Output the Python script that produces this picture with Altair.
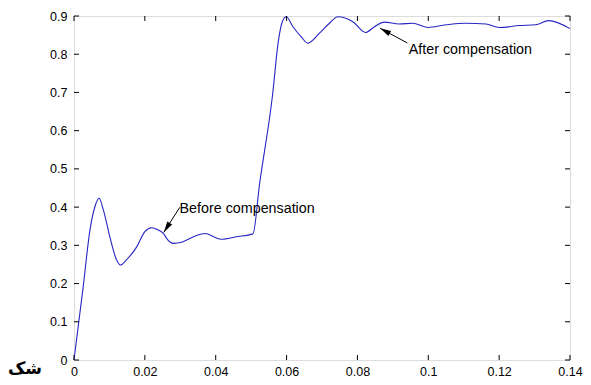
import math
import altair as alt
import pandas as pd

# ---- data ----
t = [0, 0.0026, 0.0045, 0.0059, 0.0071, 0.0083, 0.0101, 0.0120, 0.0131, 0.0148,
     0.0177, 0.0200, 0.0219, 0.0236, 0.0252, 0.0266, 0.0280, 0.0308, 0.0341, 0.0371,
     0.0397, 0.0416, 0.0458, 0.0505, 0.0524, 0.0561, 0.0576, 0.0588, 0.0599, 0.0618,
     0.0641, 0.0660, 0.0693, 0.0721, 0.0745, 0.0787, 0.0823, 0.0848, 0.0876, 0.0918,
     0.0956, 0.0998, 0.1050, 0.1106, 0.1163, 0.1200, 0.1257, 0.1303, 0.1340, 0.1400]
v = [0, 0.192, 0.340, 0.401, 0.423, 0.392, 0.323, 0.262, 0.2485, 0.262,
     0.296, 0.336, 0.346, 0.341, 0.331, 0.313, 0.305, 0.3095, 0.324, 0.331,
     0.321, 0.316, 0.3226, 0.330, 0.462, 0.698, 0.829, 0.885, 0.898, 0.872,
     0.846, 0.829, 0.855, 0.881, 0.898, 0.885, 0.857, 0.872, 0.884, 0.879,
     0.881, 0.870, 0.877, 0.881, 0.879, 0.870, 0.875, 0.877, 0.888, 0.867]

x_ticks = [0, 0.02, 0.04, 0.06, 0.08, 0.1, 0.12, 0.14]
y_ticks = [0, 0.1, 0.2, 0.3, 0.4, 0.5, 0.6, 0.7, 0.8, 0.9]

ann_text = ["Before compensation", "After compensation"]
ann_tx = [0.0298, 0.0945]          # text anchor (left edge)
ann_ty = [0.3952, 0.8118]
arr_x1 = [0.02986, 0.0941]          # arrow tail
arr_y1 = [0.3995, 0.8294]
arr_x2 = [0.02535, 0.0864]          # arrow tip (on the curve)
arr_y2 = [0.3340, 0.8678]

side_label = "شک"

W, H = 496, 344
XMAX, YMAX = 0.14, 0.9

xs = alt.Scale(domain=[0, XMAX], nice=False, zero=False)
ys = alt.Scale(domain=[0, YMAX], nice=False, zero=False)

axis_common = dict(format="~g", title=None, grid=False, domain=False, ticks=False,
                   labelFontSize=12.5, labelColor="black",
                   labelFont="Liberation Sans", labelFlush=False, labelOverlap=False)
x_axis = alt.Axis(values=x_ticks, labelPadding=5, **axis_common)
y_axis = alt.Axis(values=y_ticks, labelPadding=7, **axis_common)


def X(field):
    return alt.X(field, type="quantitative", scale=xs, axis=x_axis)


def Y(field):
    return alt.Y(field, type="quantitative", scale=ys, axis=y_axis)


df = pd.DataFrame({"t": t, "v": v})
line = alt.Chart(df).mark_line(color="#2626c4", strokeWidth=1.1, interpolate="monotone").encode(
    x=X("t"), y=Y("v"))

xt = pd.DataFrame({"x": x_ticks})
yt = pd.DataFrame({"y": y_ticks})
TL = 5
tick_bottom = alt.Chart(xt).mark_rule(color="black", strokeWidth=1).encode(
    x=X("x"), y=alt.value(H), y2=alt.value(H - TL))
tick_top = alt.Chart(xt).mark_rule(color="black", strokeWidth=1).encode(
    x=X("x"), y=alt.value(0), y2=alt.value(TL))
tick_left = alt.Chart(yt).mark_rule(color="black", strokeWidth=1).encode(
    y=Y("y"), x=alt.value(0), x2=alt.value(TL))
tick_right = alt.Chart(yt).mark_rule(color="black", strokeWidth=1).encode(
    y=Y("y"), x=alt.value(W), x2=alt.value(W - TL))

# arrows
ang = []
for a, b, c, d in zip(arr_x1, arr_y1, arr_x2, arr_y2):
    dx = (c - a) / XMAX * W
    dy = -(d - b) / YMAX * H
    ang.append((math.degrees(math.atan2(dx, -dy)) + 360) % 360)
adf = pd.DataFrame({"x1": arr_x1, "y1": arr_y1, "x2": arr_x2, "y2": arr_y2, "ang": ang})
shaft = alt.Chart(adf).mark_rule(color="black", strokeWidth=1).encode(
    x=X("x1"), y=Y("y1"), x2="x2:Q", y2="y2:Q")
head = alt.Chart(adf).mark_point(
    shape="M0,0L-0.26,1L0.26,1Z", filled=True, color="black", size=484, opacity=1
).encode(x=X("x2"), y=Y("y2"), angle=alt.Angle("ang:Q", scale=None))

tdf = pd.DataFrame({"x": ann_tx, "y": ann_ty, "label": ann_text})
texts = alt.Chart(tdf).mark_text(align="left", baseline="middle", fontSize=14.3,
                                 font="Liberation Sans", color="black").encode(
    x=X("x"), y=Y("y"), text="label:N")

side = alt.Chart(pd.DataFrame({"s": [side_label]})).mark_text(
    align="right", baseline="middle", fontSize=17, fontWeight="bold",
    font="DejaVu Sans", color="black").encode(
    x=alt.value(-32), y=alt.value(H + 9), text="s:N")

chart = alt.layer(line, tick_bottom, tick_top, tick_left, tick_right, shaft, head, texts, side).properties(
    width=W, height=H,
    padding={"left": 66, "top": 8, "right": 13, "bottom": 17},
    autosize=alt.AutoSizeParams(type="none"),
).configure_view(stroke="black", strokeWidth=1).configure(background="white")

chart.save("out.html", embed_options={"renderer": "svg", "actions": False})
